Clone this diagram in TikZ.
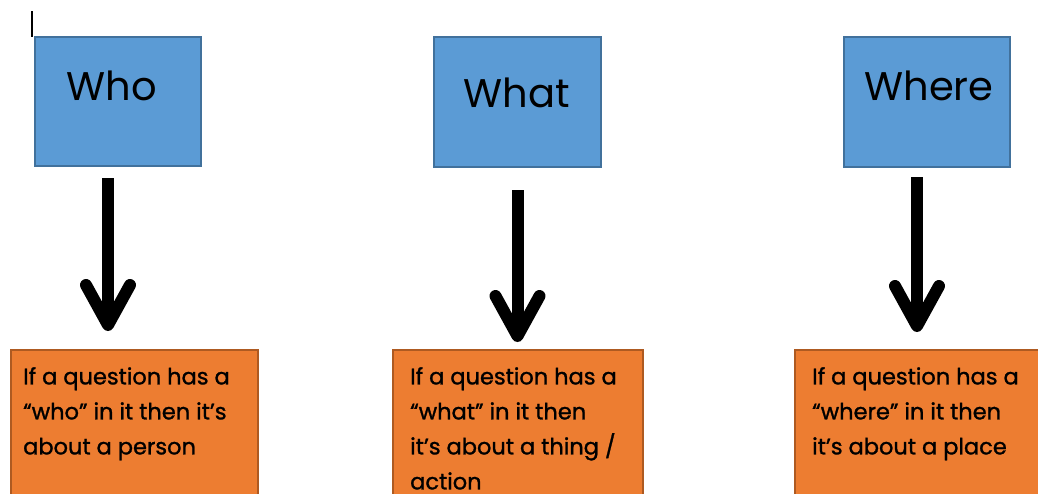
\documentclass[tikz,border=0pt]{standalone}
\usepackage{fontspec}
\setmainfont{Poppins}[BoldFont=Poppins, BoldFeatures={FakeBold=1.2}]
\usetikzlibrary{arrows.meta}
\definecolor{qblue}{HTML}{5B9BD5}
\definecolor{qblueline}{HTML}{41719C}
\definecolor{qorange}{HTML}{ED7D31}
\definecolor{qorangeline}{HTML}{AE5A21}
\begin{document}
\begin{tikzpicture}[x=1pt,y=-1pt,
  qbox/.style={draw=qblueline, fill=qblue, line width=2pt, anchor=north west, inner sep=0pt, minimum height=129pt},
  qword/.style={anchor=base, inner sep=0pt, font=\fontsize{40}{48}\selectfont},
  abox/.style={draw=qorangeline, fill=qorange, line width=2pt, anchor=north west, inner sep=0pt, minimum height=180pt},
  atext/.style={anchor=north west, inner sep=0pt, align=left, font=\fontsize{22.5}{35}\selectfont\bfseries},
  bigarrow/.style={line width=12pt, -{Straight Barb[length=40pt, width=44pt, line cap=round, line join=round]}}
]
\useasboundingbox (0,0) rectangle (1038,493);
\clip (0,0) rectangle (1038,493);
\fill[white] (0,0) rectangle (1038,493);

% text cursor mark
\coordinate (cursortop) at (32,11);
\coordinate (cursorbot) at (32,37);
\draw[line width=2.5pt] (cursortop) -- (cursorbot);

% question boxes
\node[qbox, minimum width=166pt] (who) at (34,36) {};
\node[qbox, minimum width=167pt, minimum height=130pt] (what) at (433,36) {};
\node[qbox, minimum width=166pt, minimum height=130pt] (where) at (843,36) {};
\node[qword] (whot) at (112,100) {Who};
\node[qword] (whatt) at (517,107) {What};
\node[qword] (wheret) at (929,100) {Where};

% answer boxes
\node[abox, minimum width=247pt] (whoa) at (10,349) {};
\node[abox, minimum width=250pt] (whata) at (392,349) {};
\node[abox, minimum width=260pt] (wherea) at (794,349) {};
\node[atext] (whoat) at (23,367) {If a question has a\\“who” in it then it’s\\about a person};
\node[atext] (whatat) at (410,367) {If a question has a\\“what” in it then\\it’s about a thing /\\action};
\node[atext] (whereat) at (812,367) {If a question has a\\“where” in it then\\it’s about a place};

% arrows
\draw[bigarrow, shorten <=11pt, shorten >=18pt] ([xshift=-10pt]who.south) -- ([xshift=-10pt]who.south |- whoa.north);
\draw[bigarrow, shorten <=22pt, shorten >=7pt] (what.south) -- (what.south |- whata.north);
\draw[bigarrow, shorten <=9pt, shorten >=17pt] ([xshift=-10pt]where.south) -- ([xshift=-10pt]where.south |- wherea.north);
\end{tikzpicture}
\end{document}
